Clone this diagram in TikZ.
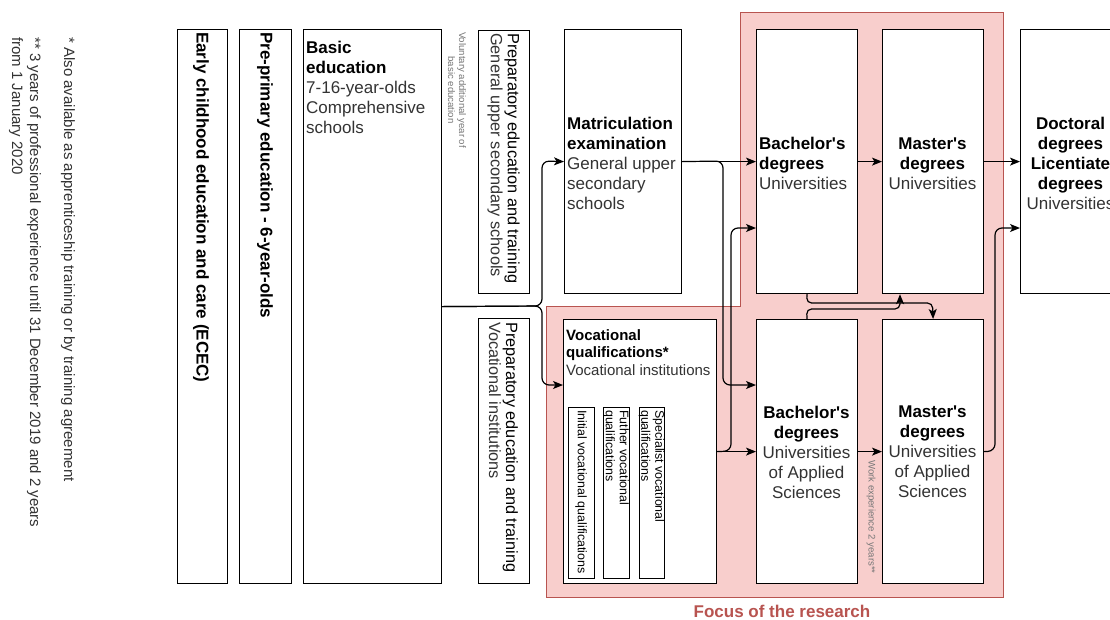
\documentclass[tikz,border=0pt]{standalone}
\usepackage{fontspec}
\setmainfont{Liberation Sans}[Ligatures=TeXOff]
\usetikzlibrary{arrows.meta}
\definecolor{focusfill}{HTML}{F8CECC}
\definecolor{focusline}{HTML}{B85450}
\definecolor{subtext}{HTML}{333333}
\definecolor{notegray}{HTML}{777777}

\begin{document}
\begin{tikzpicture}[x=1pt,y=-1pt,
  box/.style={draw=black, line width=1.2pt, fill=white, anchor=north west, inner sep=0pt},
  link/.style={line width=1.2pt, -{Stealth[length=10pt,width=8pt,inset=2.5pt]}, rounded corners=7pt},
  shortlink/.style={link, rounded corners=5pt},
  txtbig/.style={font=\fontsize{17}{20}\selectfont, inner sep=0pt},
  txtmid/.style={font=\fontsize{15}{17.5}\selectfont, inner sep=0pt},
  txtprep/.style={font=\fontsize{16.3}{17}\selectfont, inner sep=0pt},
  txtsmall/.style={font=\fontsize{12.4}{14}\selectfont, inner sep=0pt},
  txttiny/.style={font=\fontsize{9.6}{11}\selectfont, inner sep=0pt, text=notegray},
  vert/.style={rotate=-90, anchor=west},
]
\useasboundingbox (0,0) rectangle (1110,619);
\fill[white] (0,0) rectangle (1110,619);

% research focus area
\draw[fill=focusfill, draw=focusline, line width=1pt]
  (740,12) -- (1003,12) -- (1003,597) -- (546,597) -- (546,306) -- (740,306) -- cycle;
\node[txtbig, font=\fontsize{17}{20}\selectfont\bfseries, text=focusline] (focus) at (782,611) {Focus of the research};

% footnotes
\node[txtmid, vert, text=subtext] (note1) at (68,37) {* Also available as apprenticeship training or by training agreement};
\node[txtmid, vert, align=left, font=\fontsize{15}{18}\selectfont, text=subtext] (note2) at (25,37)
  {** 3 years of professional experience until 31 December 2019 and 2 years\\from 1 January 2020};

% boxes
\node[box, minimum width=50pt, minimum height=554pt] (ecec) at (177,29) {};
\node[box, minimum width=52pt, minimum height=554pt] (preprim) at (239,29) {};
\node[box, minimum width=138pt, minimum height=554pt] (basic) at (303,29) {};
\node[box, minimum width=51pt, minimum height=263pt] (prepgen) at (478,30) {};
\node[box, minimum width=51pt, minimum height=265pt] (prepvoc) at (478,318) {};
\node[box, minimum width=117pt, minimum height=264pt] (matric) at (564,29) {};
\node[box, minimum width=101pt, minimum height=264pt] (bachuni) at (756,29) {};
\node[box, minimum width=101pt, minimum height=264pt] (mastuni) at (882,29) {};
\node[box, minimum width=101pt, minimum height=264pt] (doct) at (1020,29) {};
\node[box, minimum width=153pt, minimum height=264pt] (vocq) at (563,319) {};
\node[box, minimum width=26pt, minimum height=171pt] (initial) at (568,407) {};
\node[box, minimum width=26pt, minimum height=171pt] (further) at (603,407) {};
\node[box, minimum width=25pt, minimum height=171pt] (special) at (639,407) {};
\node[box, minimum width=101pt, minimum height=264pt] (bachuas) at (756,319) {};
\node[box, minimum width=101pt, minimum height=264pt] (mastuas) at (882,319) {};

% box texts
\node[txtbig, vert, font=\fontsize{17}{20}\selectfont\bfseries] (ecectxt) at (201,32) {Early childhood education and care (ECEC)};
\node[txtbig, vert, font=\fontsize{17}{20}\selectfont\bfseries] (preprimtxt) at (265,32) {Pre-primary education - 6-year-olds};
\node[txtbig, anchor=north west, align=left] (basictxt) at (306,41)
  {\textbf{Basic}\\\textbf{education}\\\textcolor{subtext}{7-16-year-olds}\\\textcolor{subtext}{Comprehensive}\\\textcolor{subtext}{schools}};
\node[txttiny, rotate=-90, align=center] (voluntary) at (457,90) {Voluntary additional year of\\basic education};
\node[txtprep, vert, align=left] (prepgentxt) at (503.5,33)
  {Preparatory education and training\\\textcolor{subtext}{General upper secondary schools}};
\node[txtprep, vert, align=left] (prepvoctxt) at (503.5,322)
  {Preparatory education and training\\\textcolor{subtext}{Vocational institutions}};
\node[txtbig, anchor=west, align=left] (matrictxt) at (567,163)
  {\textbf{Matriculation}\\\textbf{examination}\\\textcolor{subtext}{General upper}\\\textcolor{subtext}{secondary}\\\textcolor{subtext}{schools}};
\node[txtbig, anchor=west, align=left] (bachunitxt) at (759,163.5)
  {\textbf{Bachelor's}\\\textbf{degrees}\\\textcolor{subtext}{Universities}};
\node[txtbig, align=center] (mastunitxt) at (932.5,163.5)
  {\textbf{Master's}\\\textbf{degrees}\\\textcolor{subtext}{Universities}};
\node[txtbig, align=center] (docttxt) at (1070.5,163)
  {\textbf{Doctoral}\\\textbf{degrees}\\\textbf{Licentiate}\\\textbf{degrees}\\\textcolor{subtext}{Universities}};
\node[txtmid, anchor=north west, align=left] (vocqtxt) at (566,329)
  {\textbf{Vocational}\\\textbf{qualifications*}\\\textcolor{subtext}{Vocational institutions}};
\node[txtsmall, vert] (initialtxt) at (581,410) {Initial vocational qualifications};
\node[txtsmall, vert, align=left] (furthertxt) at (616,410) {Futher vocational\\qualifications};
\node[txtsmall, vert, align=left] (specialtxt) at (651.5,410) {Specialist vocational\\qualifications};
\node[txtbig, align=center] (bachuastxt) at (806.5,452)
  {\textbf{Bachelor's}\\\textbf{degrees}\\\textcolor{subtext}{Universities}\\\textcolor{subtext}{of Applied}\\\textcolor{subtext}{Sciences}};
\node[txtbig, align=center] (mastuastxt) at (932.5,452)
  {\textbf{Master's}\\\textbf{degrees}\\\textcolor{subtext}{Universities}\\\textcolor{subtext}{of Applied}\\\textcolor{subtext}{Sciences}};
\node[txttiny, vert] (worktxt) at (871,460) {Work experience 2 years**};

% connectors
\draw[link] (basic.east) -- (542,306) -- (542,161) -- (matric.west);
\draw[link] (basic.east) -- (542,306) -- (542,385) -- (vocq.west |- 0,385);
\draw[link] (matric.east) -- (bachuni.west);
\draw[link] (matric.east) -- (723,161) -- (723,385) -- (bachuas.west |- 0,385);
\draw[link] (vocq.east) -- (bachuas.west);
\draw[link] (vocq.east) -- (731,451) -- (731,228) -- (bachuni.west |- 0,228);
\draw[link] (bachuni.east) -- (mastuni.west);
\draw[link] (mastuni.east) -- (doct.west);
\draw[link] (bachuas.east) -- (mastuas.west);
\draw[link] (mastuas.east) -- (995,451) -- (995,228) -- (doct.west |- 0,228);
\draw[shortlink] (bachuni.south) -- (806.5,303) -- (932.5,303) -- (mastuas.north);
\draw[shortlink] (bachuas.north) -- (806.5,309) -- (900,309) -- (mastuni.south -| 900,0);
\end{tikzpicture}
\end{document}
